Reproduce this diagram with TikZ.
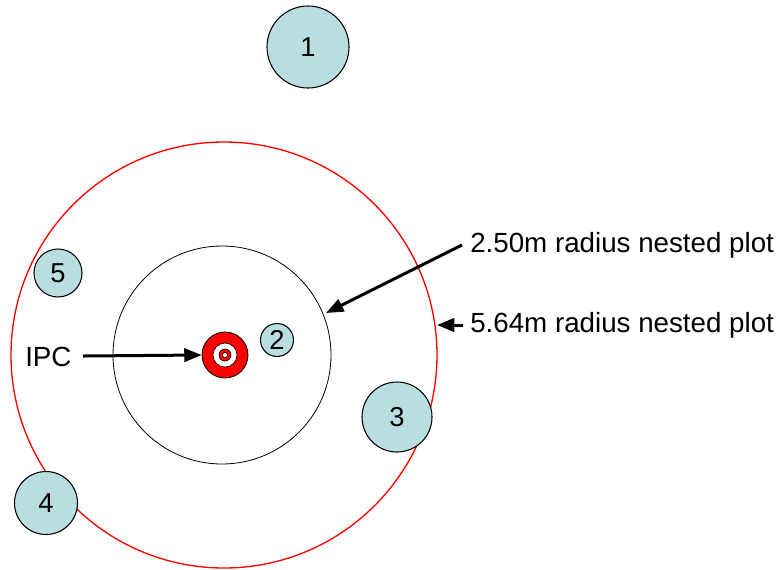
\documentclass[tikz,border=0pt]{standalone}
\usepackage{fontspec}
\setmainfont{Liberation Sans}
\usetikzlibrary{arrows.meta}
\definecolor{plotblue}{RGB}{185,222,225}
\begin{document}
\begin{tikzpicture}[x=0.75pt,y=-0.75pt,
  tree/.style={circle,draw=black,line width=0.8pt,fill=plotblue,inner sep=0pt,font=\fontsize{20.5}{22}\selectfont},
  lbl/.style={font=\fontsize{20.8}{23}\selectfont,inner sep=0pt},
  arr/.style={line width=2.25pt,-{Triangle[length=13pt,width=10pt]}}]
\useasboundingbox (0,0) rectangle (780,569);
% plot circles
\node[circle,draw=red,line width=1pt,minimum size=426*0.75pt,inner sep=0pt] (big) at (224,355) {};
\node[circle,draw=black,line width=0.6pt,minimum size=218*0.75pt,inner sep=0pt] (small) at (222,355) {};
% trees
\node[tree,minimum size=82*0.75pt] (t1) at (308,47) {1};
\node[tree,minimum size=33*0.75pt] (t2) at (277,340) {2};
\node[tree,minimum size=70*0.75pt] (t3) at (397,417) {3};
\node[tree,minimum size=63*0.75pt] (t4) at (46,503) {4};
\node[tree,minimum size=48*0.75pt] (t5) at (58,273) {5};
% IPC target
\node[circle,draw=black,line width=0.6pt,fill=red,minimum size=46*0.75pt,inner sep=0pt] (ipc) at (225,355) {};
\node[circle,draw=black,line width=0.5pt,fill=white,minimum size=24*0.75pt,inner sep=0pt] (ipcw) at (225,355) {};
\node[circle,draw=black,line width=0.5pt,fill=red,minimum size=12*0.75pt,inner sep=0pt] (ipcr) at (225,355) {};
\node[circle,draw=black,line width=0.4pt,fill=white,minimum size=5*0.75pt,inner sep=0pt] (ipcc) at (225,355) {};
% labels
\node[lbl,anchor=west] (l250) at (470,245) {2.50m radius nested plot};
\node[lbl,anchor=west] (l564) at (470,325) {5.64m radius nested plot};
\node[lbl,anchor=west] (lipc) at (25,357) {IPC};
% arrows
\coordinate (a1s) at (462,245);
\coordinate (a1e) at (326,313);
\draw[arr] (a1s) -- (a1e);
\coordinate (a2s) at (463,325);
\coordinate (a2e) at (437,325);
\draw[arr] (a2s) -- (a2e);
\coordinate (ipcs) at (83,356);
\draw[arr] (ipcs) -- (ipc.west);
\end{tikzpicture}
\end{document}
